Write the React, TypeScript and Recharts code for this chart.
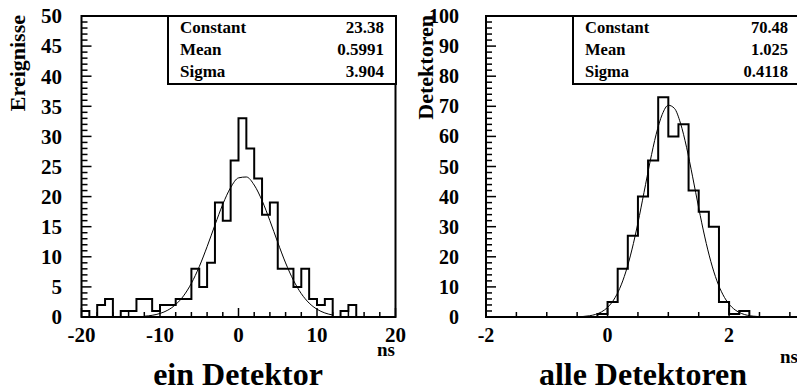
import React from "react";
import { ComposedChart, Line, XAxis, YAxis, ReferenceArea } from "recharts";

// Timing histograms: single detector (left) vs all detectors (right),
// each with its gaussian fit. Counts.

const FONT = "'Liberation Serif', 'Times New Roman', serif";

// left panel: 1 ns bins from -20 to 20
const leftBinStart = -20;
const leftBinWidth = 1;
const leftCounts = [
  1, 0, 2, 3, 0, 1, 1, 3, 3, 1, 2, 2, 3, 3, 8, 5, 9, 19, 16, 26,
  33, 28, 23, 17, 19, 8, 8, 5, 8, 3, 2, 3, 0, 1, 2, 0, 0, 0, 0, 0,
];

// right panel: 1/6 ns bins from -2
const rightBinStart = -2;
const rightBinWidth = 1 / 6;
const rightCounts = [
  0, 0, 0, 0, 0, 0, 0, 0, 0, 0, 0, 1, 5, 16, 27, 40, 52, 73, 60, 64,
  42, 35, 30, 5, 1, 2, 0, 0, 0, 0, 0,
];

// fit curves, sampled along the drawn line
const leftFitX = [
  -12, -11, -10, -9, -8, -7, -6, -5, -4, -3, -2, -1, 0, 1, 2, 3, 4, 5, 6,
  7, 8, 9, 10, 11, 12,
];
const leftFitY = [
  0.13, 0.28, 0.59, 1.14, 2.07, 3.51, 5.6, 8.36, 11.68, 15.28, 18.73, 21.5,
  23.11, 23.26, 21.92, 19.35, 16.0, 12.39, 8.98, 6.1, 3.88, 2.31, 1.29, 0.67,
  0.33,
];
const rightFitX = [
  -0.5, -0.4, -0.3, -0.2, -0.1, 0, 0.1, 0.2, 0.3, 0.4, 0.5, 0.6, 0.7, 0.8,
  0.9, 1.0, 1.1, 1.2, 1.3, 1.4, 1.5, 1.6, 1.7, 1.8, 1.9, 2.0, 2.1, 2.2, 2.3,
  2.4, 2.5,
];
const rightFitY = [
  0.07, 0.18, 0.4, 0.85, 1.69, 3.18, 5.66, 9.47, 14.96, 22.28, 31.27, 41.38,
  51.62, 60.7, 67.31, 70.35, 69.32, 64.4, 56.39, 46.56, 36.24, 26.59, 18.4,
  12.0, 7.37, 4.27, 2.34, 1.2, 0.58, 0.27, 0.12,
];

// fit results shown in the stat boxes
const statNames = ["Constant", "Mean", "Sigma"];
const leftStats = ["23.38", "0.5991", "3.904"];
const rightStats = ["70.48", "1.025", "0.4118"];

// labelled (major) ticks
const leftXLabels = [-20, -10, 0, 10, 20];
const leftYLabels = [0, 5, 10, 15, 20, 25, 30, 35, 40, 45, 50];
const rightXLabels = [-2, 0, 2];
const rightYLabels = [0, 10, 20, 30, 40, 50, 60, 70, 80, 90, 100];

function stepTicks(lo: number, hi: number, step: number): number[] {
  const out: number[] = [];
  const n = Math.round((hi - lo) / step);
  for (let i = 0; i <= n; i++) out.push(+(lo + i * step).toFixed(6));
  return out;
}

function histPoints(start: number, width: number, counts: number[]) {
  const pts = counts.map((c, i) => ({ x: start + i * width, y: c }));
  pts.push({ x: start + counts.length * width, y: 0 });
  return pts;
}

function fitPoints(xs: number[], ys: number[]) {
  return xs.map((x, i) => ({ x, y: ys[i] }));
}

const isIn = (arr: number[], v: number) => arr.some((m) => Math.abs(m - v) < 1e-6);

interface PanelProps {
  left: number;
  width: number;
  yAxisWidth: number;
  rightMargin: number;
  xDomain: [number, number];
  yMax: number;
  xTicks: number[];
  xMajor: number[];
  yTicks: number[];
  yMajor: number[];
  hist: { x: number; y: number }[];
  fit: { x: number; y: number }[];
  fontSize: number;
  yLabelGap: number;
}

function Panel(p: PanelProps) {
  const xTick = (props: any) => {
    const { x, y, payload } = props;
    const v = payload.value;
    const major = isIn(p.xMajor, v);
    return (
      <g>
        <line x1={x} x2={x} y1={y} y2={y - (major ? 9 : 5)} stroke="#000" strokeWidth={1.5} />
        {major && (
          <text x={x} y={y + 25} textAnchor="middle" fontSize={p.fontSize}
            fontWeight="bold" fontFamily={FONT} fill="#000">
            {v}
          </text>
        )}
      </g>
    );
  };
  const yTick = (props: any) => {
    const { x, y, payload } = props;
    const v = payload.value;
    const major = isIn(p.yMajor, v);
    return (
      <g>
        <line x1={x} x2={x + (major ? 10 : 6)} y1={y} y2={y} stroke="#000" strokeWidth={1.5} />
        {major && (
          <text x={x - p.yLabelGap} y={y} dy="0.35em" textAnchor="end"
            fontSize={p.fontSize} fontWeight="bold" fontFamily={FONT} fill="#000">
            {v}
          </text>
        )}
      </g>
    );
  };

  return (
    <div style={{ position: "absolute", left: p.left, top: 0 }}>
      <ComposedChart width={p.width} height={392}
        margin={{ top: 16, right: p.rightMargin, bottom: 0, left: 0 }}>
        <XAxis type="number" dataKey="x" domain={p.xDomain} allowDataOverflow
          ticks={p.xTicks} interval={0} tick={xTick} tickLine={false}
          axisLine={false} tickSize={0} tickMargin={0} height={75} />
        <YAxis type="number" domain={[0, p.yMax]} allowDataOverflow
          ticks={p.yTicks} interval={0} tick={yTick} tickLine={false}
          axisLine={false} tickSize={0} tickMargin={0} width={p.yAxisWidth} />
        <ReferenceArea x1={p.xDomain[0]} x2={p.xDomain[1]} y1={0} y2={p.yMax}
          fill="none" fillOpacity={0} stroke="#000" strokeWidth={2} />
        <Line data={p.fit} dataKey="y" type="monotone" stroke="#000"
          strokeWidth={1} dot={false} isAnimationActive={false} />
        <Line data={p.hist} dataKey="y" type="stepAfter" stroke="#000"
          strokeWidth={2} dot={false} isAnimationActive={false} />
      </ComposedChart>
    </div>
  );
}

function StatBox({ x, w, nameX, valueX, values, fontSize }: {
  x: number; w: number; nameX: number; valueX: number; values: string[]; fontSize: number;
}) {
  const baselines = [33, 55, 77];
  return (
    <g fontFamily={FONT} fontWeight="bold" fontSize={fontSize} fill="#000">
      <rect x={x} y={16} width={w} height={68} fill="#fff" stroke="#000" strokeWidth={2} />
      {statNames.map((n, i) => (
        <text key={n} x={nameX} y={baselines[i]}>{n}</text>
      ))}
      {values.map((v, i) => (
        <text key={i} x={valueX} y={baselines[i]} textAnchor="end">{v}</text>
      ))}
    </g>
  );
}

export default function App() {
  return (
    <div style={{ position: "absolute", left: 0, top: 0, width: 797, height: 392,
      overflow: "hidden", background: "#fff" }}>
      <Panel left={0} width={420} yAxisWidth={81.5} rightMargin={24.5} xDomain={[-20, 20]} yMax={50}
        xTicks={stepTicks(-20, 20, 2)} xMajor={leftXLabels}
        yTicks={stepTicks(0, 50, 1)} yMajor={leftYLabels}
        hist={histPoints(leftBinStart, leftBinWidth, leftCounts)}
        fit={fitPoints(leftFitX, leftFitY)} fontSize={21} yLabelGap={19.5} />
      <Panel left={400} width={400} yAxisWidth={86} rightMargin={0} xDomain={[-2, 19 / 6]} yMax={100}
        xTicks={stepTicks(-2, 3, 0.5)} xMajor={rightXLabels}
        yTicks={stepTicks(0, 100, 2)} yMajor={rightYLabels}
        hist={histPoints(rightBinStart, rightBinWidth, rightCounts)}
        fit={fitPoints(rightFitX, rightFitY)} fontSize={20} yLabelGap={27} />
      <svg width={797} height={392} style={{ position: "absolute", left: 0, top: 0 }}>
        <StatBox x={168} w={228} nameX={180} valueX={384} values={leftStats} fontSize={17} />
        <StatBox x={573} w={240} nameX={585} valueX={788} values={rightStats} fontSize={16.5} />
        <g fontFamily={FONT} fontWeight="bold" fill="#000">
          <text transform="translate(25,15) rotate(-90)" textAnchor="end" fontSize={22}>Ereignisse</text>
          <text transform="translate(433,15) rotate(-90)" textAnchor="end" fontSize={22}>Detektoren</text>
          <text x={395} y={356} textAnchor="end" fontSize={19}>ns</text>
          <text x={798} y={363} textAnchor="end" fontSize={19}>ns</text>
          <text x={238} y={385} textAnchor="middle" fontSize={32}>ein Detektor</text>
          <text x={643} y={385} textAnchor="middle" fontSize={32}>alle Detektoren</text>
        </g>
      </svg>
    </div>
  );
}
